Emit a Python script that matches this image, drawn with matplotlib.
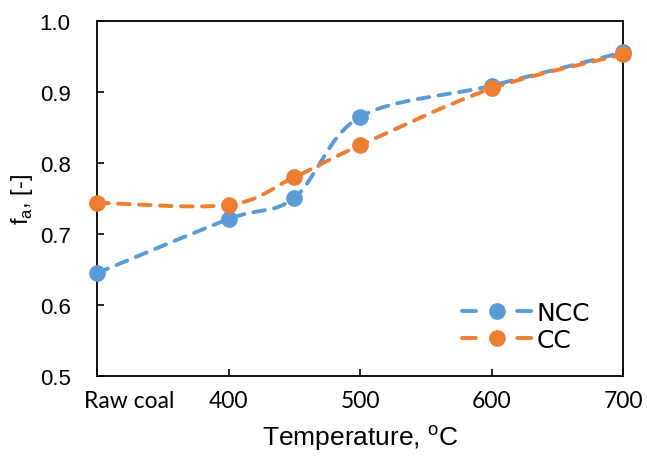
import matplotlib.pyplot as plt
from matplotlib.path import Path
from matplotlib.patches import PathPatch
from matplotlib.lines import Line2D

plt.rcParams["mathtext.fontset"] = "custom"
plt.rcParams["mathtext.rm"] = "Liberation Sans"

# temperatures (raw coal placed at 300 on the axis)
temps = [300, 400, 450, 500, 600, 700]
ncc = [0.645, 0.721, 0.751, 0.865, 0.909, 0.956]
cc = [0.744, 0.741, 0.780, 0.825, 0.905, 0.953]
tick_pos = [300, 400, 500, 600, 700]
tick_text = ["Raw coal", "400", "500", "600", "700"]

blue = "#5B9BD5"
orange = "#ED7D31"
dash = (0, (3.0, 2.4))


def smooth_path(xs, ys):
    # cubic bezier through every point, tangents from neighbours
    pts = list(zip(xs, ys))
    verts = [pts[0]]
    codes = [Path.MOVETO]
    n = len(pts)
    for i in range(n - 1):
        p0 = pts[max(i - 1, 0)]
        p1 = pts[i]
        p2 = pts[i + 1]
        p3 = pts[min(i + 2, n - 1)]
        c1 = (p1[0] + (p2[0] - p0[0]) / 6, p1[1] + (p2[1] - p0[1]) / 6)
        c2 = (p2[0] - (p3[0] - p1[0]) / 6, p2[1] - (p3[1] - p1[1]) / 6)
        verts += [c1, c2, p2]
        codes += [Path.CURVE4] * 3
    return Path(verts, codes)


fig = plt.figure(figsize=(6.47, 4.64), dpi=100)
ax = fig.add_axes([0.150, 0.1875, 0.813, 0.765])

for ys, col in [(ncc, blue), (cc, orange)]:
    patch = PathPatch(smooth_path(temps, ys), facecolor="none", edgecolor=col,
                      lw=2.8, linestyle=dash, capstyle="round", zorder=2)
    ax.add_patch(patch)
    ax.plot(temps, ys, "o", color=col, ms=11, zorder=3, clip_on=False)

# legend keys: short dash, marker in the gap, short dash
handles = [Line2D([], [], color=c, lw=2.8, ls=(0, (3.6, 10.6)), marker="o",
                  ms=11, dash_capstyle="round") for c in (blue, orange)]
ax.legend(handles, ["NCC", "CC"], loc="lower right", frameon=False,
          fontsize=18, bbox_to_anchor=(0.98, 0.005), handlelength=2.8,
          handletextpad=0.2, labelspacing=0.1)

ax.set_xlim(300, 700)
ax.set_ylim(0.5, 1.0)
ax.set_xticks(tick_pos)
ax.set_xticklabels([""] + tick_text[1:], fontsize=16.5, family="Lato")
# raw coal label sits a little right of the axis corner
ax.annotate(tick_text[0], xy=(tick_pos[0], 0),
            xycoords=("data", "axes fraction"), xytext=(23, -10),
            textcoords="offset points", ha="center", va="top",
            fontsize=16.5, family="Lato")

ax.set_yticks([0.5, 0.6, 0.7, 0.8, 0.9, 1.0])
ax.set_yticklabels(["0.5", "0.6", "0.7", "0.8", "0.9", "1.0"], fontsize=16,
                   family="Liberation Sans")
ax.tick_params(direction="in", length=5, width=1.2)
ax.tick_params(axis="x", pad=10)
ax.tick_params(axis="y", pad=19)
for s in ax.spines.values():
    s.set_linewidth(1.3)

ax.set_xlabel("Temperature, $^{\\mathrm{o}}$C", fontsize=19,
              family="Liberation Sans", labelpad=8)
ax.set_ylabel("f$_{\\mathrm{a}}$, [-]", fontsize=17, family="Liberation Sans")
ax.yaxis.set_label_coords(-0.118, 0.5)

fig.savefig("out.png", dpi=100)
